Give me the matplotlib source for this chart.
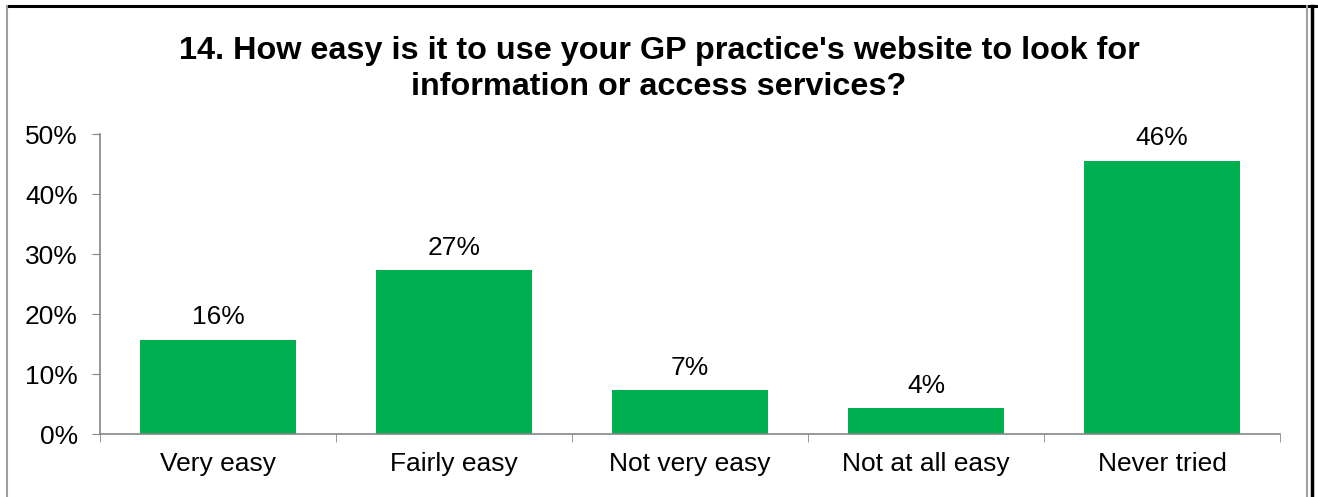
import matplotlib.pyplot as plt
from matplotlib.lines import Line2D

plt.rcParams['font.family'] = ['Liberation Sans', 'DejaVu Sans']

categories = ['Very easy', 'Fairly easy', 'Not very easy', 'Not at all easy', 'Never tried']
shares = [15.7, 27.3, 7.3, 4.3, 45.5]
yticks = [0, 10, 20, 30, 40, 50]

bar_color = '#00B050'
axis_color = '#868686'

fig = plt.figure(figsize=(13.18, 4.97), dpi=100)
ax = fig.add_axes([100 / 1318, 63 / 497, 1180 / 1318, 300 / 497])

x = list(range(len(categories)))
bars = ax.bar(x, shares, width=0.66, color=bar_color, zorder=2)
for b, v in zip(bars, shares):
    ax.text(b.get_x() + b.get_width() / 2, v + 2.6, f'{v:.0f}%',
            ha='center', va='baseline', fontsize=19)

ax.set_xlim(-0.5, len(categories) - 0.5)
ax.set_ylim(0, 50)
ax.set_yticks(yticks)
ax.set_yticklabels([f'{t}%' for t in yticks], fontsize=19)
ax.set_xticks(x)
ax.set_xticklabels(categories, fontsize=19)
ax.tick_params(axis='x', length=0, pad=13)
ax.tick_params(axis='y', length=6, color=axis_color, pad=10)
# category separators below the axis, Excel style
ax.set_xticks([i - 0.5 for i in range(len(categories) + 1)], minor=True)
ax.tick_params(axis='x', which='minor', length=6, color=axis_color)

for s in ['top', 'right']:
    ax.spines[s].set_visible(False)
for s in ['left', 'bottom']:
    ax.spines[s].set_color(axis_color)
    ax.spines[s].set_linewidth(1.2)

fig.text(0.5, 1 - 69 / 497, "14. How easy is it to use your GP practice's website to look for\ninformation or access services?",
         ha='center', va='center', fontsize=23.3, fontweight='bold', linespacing=1.22)

# chart frame
W, H = 1318, 497
fig.add_artist(Line2D([7 / W, 1], [1 - 6 / H, 1 - 6 / H], color='black', lw=2.2))
fig.add_artist(Line2D([7 / W, 7 / W], [0, 1 - 6 / H], color='#A0A0A0', lw=1.5))
fig.add_artist(Line2D([1307 / W, 1307 / W], [0, 1 - 6 / H], color='#A0A0A0', lw=1.5))
fig.add_artist(Line2D([1311.5 / W, 1311.5 / W], [0, 1 - 6 / H], color='black', lw=2.5))

fig.savefig('out.png', dpi=100)
